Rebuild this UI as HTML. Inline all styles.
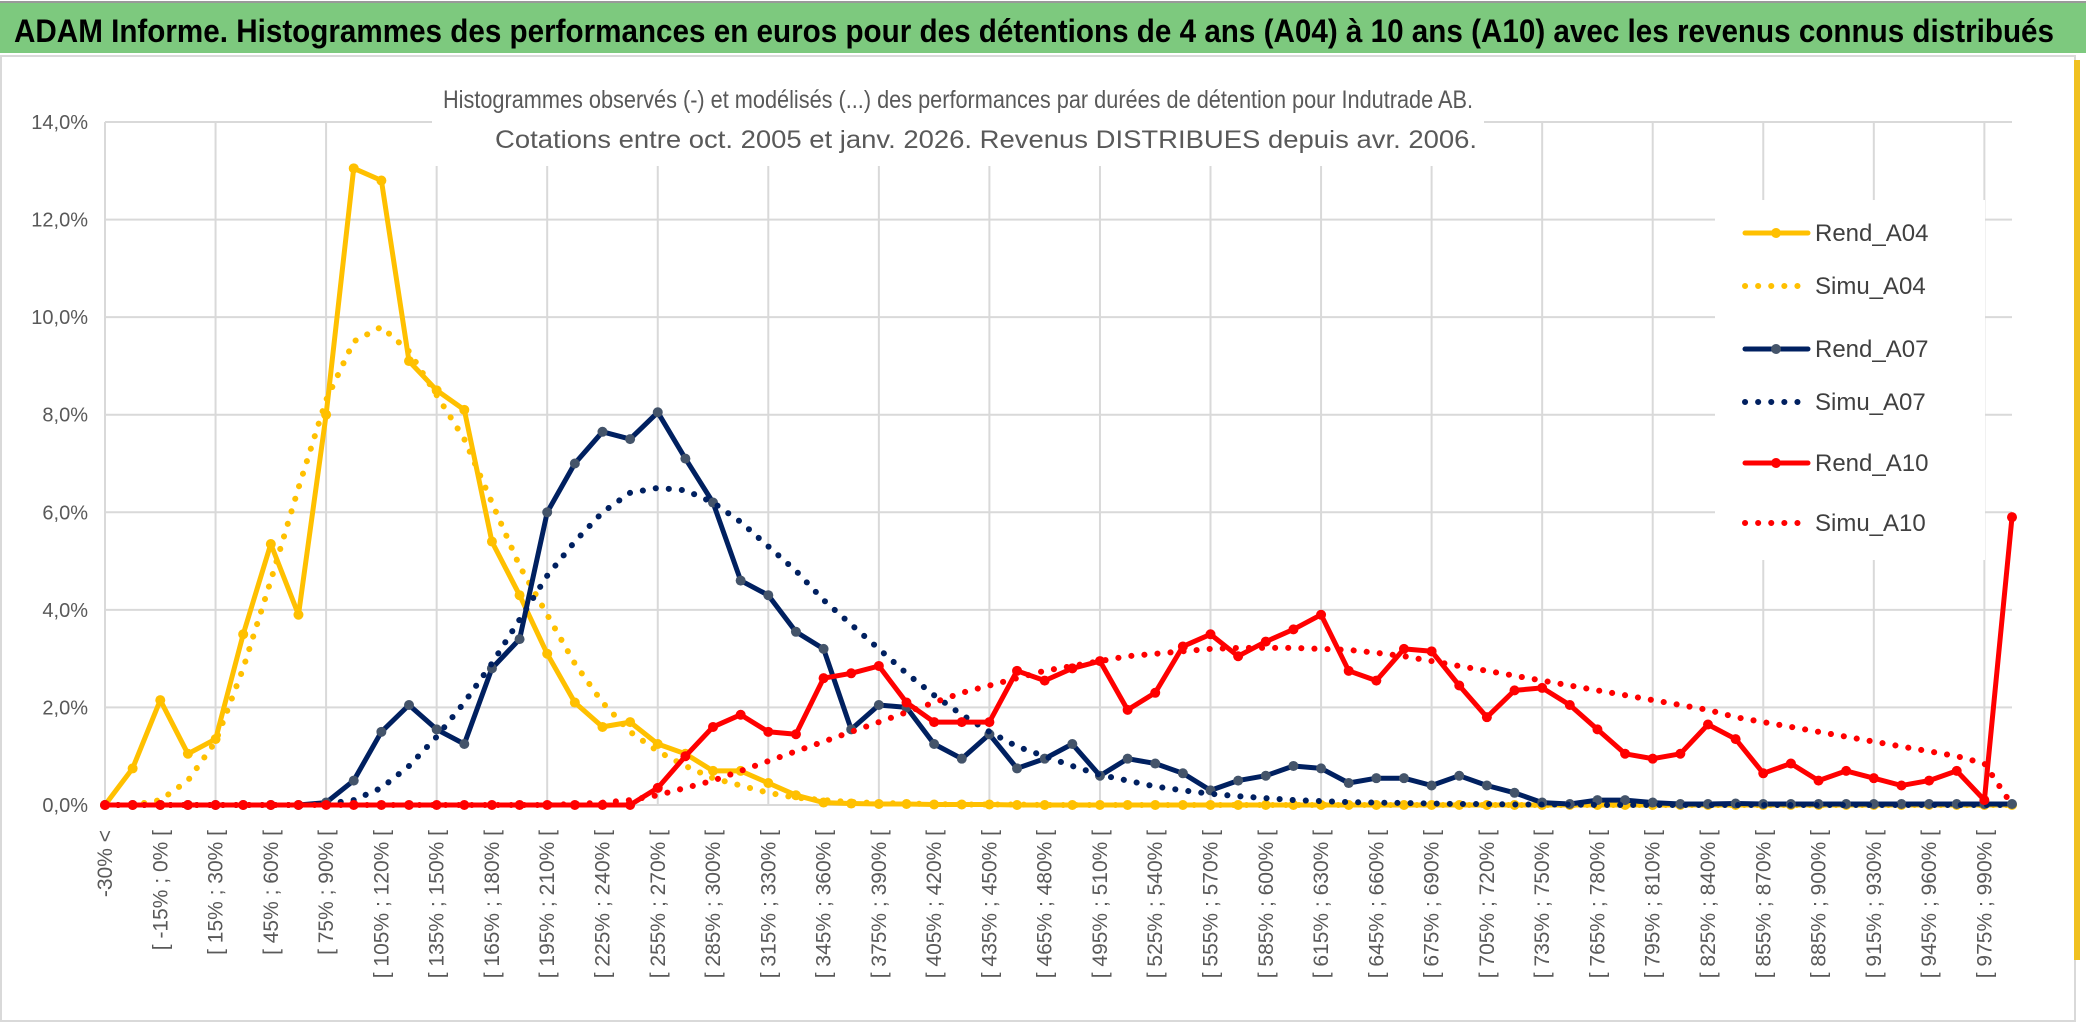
<!DOCTYPE html>
<html><head><meta charset="utf-8"><style>
html,body{margin:0;padding:0;background:#fff;}
svg{display:block;font-family:"Liberation Sans",sans-serif;}
</style></head><body>
<svg id="chart" width="2086" height="1033" viewBox="0 0 2086 1033" xmlns="http://www.w3.org/2000/svg">
<rect x="0" y="0" width="2086" height="1033" fill="#fff"/>
<rect x="0" y="3" width="2086" height="50" fill="#7DC97E"/>
<line x1="0" y1="2" x2="2086" y2="2" stroke="#999" stroke-width="2"/>
<text x="14" y="42" font-size="32" font-weight="bold" fill="#000" textLength="2040" lengthAdjust="spacingAndGlyphs" font-family="Liberation Sans Narrow, Liberation Sans, sans-serif">ADAM Informe. Histogrammes des performances en euros pour des détentions de 4 ans (A04) à 10 ans (A10) avec les revenus connus distribués</text>
<rect x="1" y="56" width="2074" height="965" fill="none" stroke="#D9D9D9" stroke-width="2"/>
<rect x="2074" y="60" width="6" height="900" fill="#F0C020"/>
<g id="grid"></g>
<g id="yaxis"></g>
<g id="xaxis"></g>
<rect x="1715" y="200" width="270" height="360" fill="#fff"/>
<g id="series"></g>
<rect x="432" y="78" width="1052" height="88" fill="#fff"/>
<text x="958" y="108" text-anchor="middle" font-size="25" fill="#595959" textLength="1030" lengthAdjust="spacingAndGlyphs" font-family="Liberation Sans Narrow, Liberation Sans, sans-serif">Histogrammes observés (-) et modélisés (...) des performances par durées de détention pour Indutrade AB.</text>
<text x="986" y="148" text-anchor="middle" font-size="25" fill="#595959" textLength="982" lengthAdjust="spacingAndGlyphs" font-family="Liberation Sans Narrow, Liberation Sans, sans-serif">Cotations entre oct. 2005 et janv. 2026. Revenus DISTRIBUES depuis avr. 2006.</text>
<g id="legend"></g>
</svg>
<script>
const categories = [];
categories.push("-30% <");
for (let k = 1; k <= 68; k++) categories.push("[ " + (-45 + 15 * k) + "% ; " + (-30 + 15 * k) + "% [");
categories.push("990% >=");
const yTicks = [0, 2, 4, 6, 8, 10, 12, 14];
const yTickLabels = ["0,0%", "2,0%", "4,0%", "6,0%", "8,0%", "10,0%", "12,0%", "14,0%"];
const rendA04 = [0,0.75,2.15,1.05,1.35,3.5,5.35,3.9,8.0,13.05,12.8,9.1,8.5,8.1,5.4,4.3,3.1,2.1,1.6,1.7,1.25,1.05,0.7,0.7,0.45,0.2,0.05,0.03,0.02,0.02,0.01,0.01,0.01,0,0,0,0,0,0,0,0,0,0,0,0,0,0,0,0,0,0,0,0,0,0,0,0,0,0,0,0,0,0,0,0,0,0,0,0,0];
const simuA04 = [0,0,0.1,0.5,1.3,2.8,4.6,6.5,8.3,9.5,9.8,9.3,8.4,7.5,6.2,4.9,3.9,2.9,2.1,1.5,1.1,0.8,0.55,0.4,0.25,0.15,0.1,0.06,0.04,0.03,0.02,0.01,0.01,0.01,0,0,0,0,0,0,0,0,0,0,0,0,0,0,0,0,0,0,0,0,0,0,0,0,0,0,0,0,0,0,0,0,0,0,0,0];
const rendA07 = [0,0,0,0,0,0,0,0,0.05,0.5,1.5,2.05,1.55,1.25,2.8,3.4,6.0,7.0,7.65,7.5,8.05,7.1,6.2,4.6,4.3,3.55,3.2,1.55,2.05,2.0,1.25,0.95,1.45,0.75,0.95,1.25,0.6,0.95,0.85,0.65,0.3,0.5,0.6,0.8,0.75,0.45,0.55,0.55,0.4,0.6,0.4,0.25,0.05,0.02,0.1,0.1,0.05,0.02,0.02,0.03,0.02,0.02,0.02,0.02,0.02,0.02,0.02,0.02,0.02,0.02];
const simuA07 = [0,0,0,0,0,0,0,0,0.02,0.1,0.35,0.8,1.4,2.1,2.9,3.8,4.7,5.4,6.0,6.4,6.5,6.45,6.2,5.8,5.3,4.8,4.2,3.7,3.2,2.7,2.25,1.85,1.5,1.2,1.0,0.8,0.62,0.5,0.38,0.3,0.23,0.18,0.14,0.1,0.08,0.06,0.05,0.04,0.03,0.02,0.02,0.01,0.01,0.01,0,0,0,0,0,0,0,0,0,0,0,0,0,0,0,0];
const rendA10 = [0,0,0,0,0,0,0,0,0,0,0,0,0,0,0,0,0,0,0,0,0.35,1.0,1.6,1.85,1.5,1.45,2.6,2.7,2.85,2.1,1.7,1.7,1.7,2.75,2.55,2.8,2.95,1.95,2.3,3.25,3.5,3.05,3.35,3.6,3.9,2.75,2.55,3.2,3.15,2.45,1.8,2.35,2.4,2.05,1.55,1.05,0.95,1.05,1.65,1.35,0.65,0.85,0.5,0.7,0.55,0.4,0.5,0.7,0.1,5.9];
const simuA10 = [0,0,0,0,0,0,0,0,0,0,0,0,0,0,0,0,0,0.02,0.05,0.1,0.2,0.35,0.5,0.7,0.9,1.1,1.3,1.5,1.7,1.9,2.1,2.3,2.45,2.6,2.75,2.85,2.95,3.05,3.1,3.15,3.2,3.22,3.22,3.22,3.2,3.18,3.12,3.05,2.95,2.85,2.75,2.65,2.55,2.45,2.35,2.25,2.15,2.05,1.95,1.8,1.7,1.6,1.5,1.4,1.3,1.2,1.1,1.0,0.85,0];
const seriesNames = ["Rend_A04","Simu_A04","Rend_A07","Simu_A07","Rend_A10","Simu_A10"];

const NS = "http://www.w3.org/2000/svg";
const X0 = 105, X1 = 2012, Y0 = 805, Y14 = 122;
function xPos(i){ return X0 + i * (X1 - X0) / (categories.length - 1); }
function yPos(v){ return Y0 - v * (Y0 - Y14) / 14; }
function mk(tag, attrs, parent){ const e = document.createElementNS(NS, tag); for (const k in attrs) e.setAttribute(k, attrs[k]); parent.appendChild(e); return e; }

const grid = document.getElementById("grid");
yTicks.forEach(t => {
  const l = mk("line", {x1: X0, x2: X1, y1: yPos(t), y2: yPos(t), stroke: "#D9D9D9", "stroke-width": 2}, grid);
  
  
});
for (let i = 0; i < categories.length - 1; i += 4) {
  const l = mk("line", {x1: xPos(i), x2: xPos(i), y1: yPos(14), y2: yPos(0), stroke: "#D9D9D9", "stroke-width": 2}, grid);
  
  
}
const yaxis = document.getElementById("yaxis");
yTicks.forEach((t, k) => {
  const tx = mk("text", {x: 88, y: yPos(t) + 7, "text-anchor": "end", "font-size": 20, fill: "#595959"}, yaxis);
  tx.textContent = yTickLabels[k];
  
  
});
const xaxis = document.getElementById("xaxis");
for (let i = 0; i < categories.length - 1; i += 2) {
  const x = xPos(i) + 7, y = 830;
  const tx = mk("text", {x: x, y: y, "text-anchor": "end", "font-size": 21, fill: "#595959", transform: "rotate(-90 " + x + " " + y + ")"}, xaxis);
  tx.textContent = categories[i];
  
  
}
const sg = document.getElementById("series");
function drawSeries(vals, color, dotted, marker, name){
  const pts = vals.map((v, i) => xPos(i).toFixed(1) + "," + yPos(v).toFixed(1)).join(" ");
  const attrs = {points: pts, fill: "none", stroke: color, "stroke-linejoin": "round", "stroke-linecap": "round"};
  if (dotted) { attrs["stroke-width"] = 6; attrs["stroke-dasharray"] = "0.1 13"; }
  else attrs["stroke-width"] = 5;
  const pl = mk("polyline", attrs, sg);
  
  
  if (!dotted) {
    vals.forEach((v, i) => {
      const c = mk("circle", {cx: xPos(i), cy: yPos(v), r: 5, fill: marker}, sg);
      
      
    });
  }
}
drawSeries(rendA04, "#FFC000", false, "#FFC000", "rend-a04");
drawSeries(simuA04, "#FFC000", true, null, "simu-a04");
drawSeries(rendA07, "#002060", false, "#44546A", "rend-a07");
drawSeries(simuA07, "#002060", true, null, "simu-a07");
drawSeries(rendA10, "#FF0000", false, "#FF0000", "rend-a10");
drawSeries(simuA10, "#FF0000", true, null, "simu-a10");

const lg = document.getElementById("legend");
const legColors = ["#FFC000","#FFC000","#002060","#002060","#FF0000","#FF0000"];
const legMarkers = ["#FFC000",null,"#44546A",null,"#FF0000",null];
const legY = [233, 286, 349, 402, 463, 523];
seriesNames.forEach((n, k) => {
  const g = mk("g", {}, lg);
  
  
  const dotted = legMarkers[k] === null;
  const la = {x1: 1745, x2: 1808, y1: legY[k], y2: legY[k], stroke: legColors[k], "stroke-linecap": "round"};
  if (dotted) { la["stroke-width"] = 6; la["stroke-dasharray"] = "0.1 13"; } else la["stroke-width"] = 5;
  mk("line", la, g);
  if (!dotted) mk("circle", {cx: 1776, cy: legY[k], r: 5, fill: legMarkers[k]}, g);
  const t = mk("text", {x: 1815, y: legY[k] + 8, "font-size": 24, fill: "#404040", "font-family": "Liberation Sans Narrow, Liberation Sans, sans-serif"}, g);
  t.textContent = n;
});
</script>
</body></html>
